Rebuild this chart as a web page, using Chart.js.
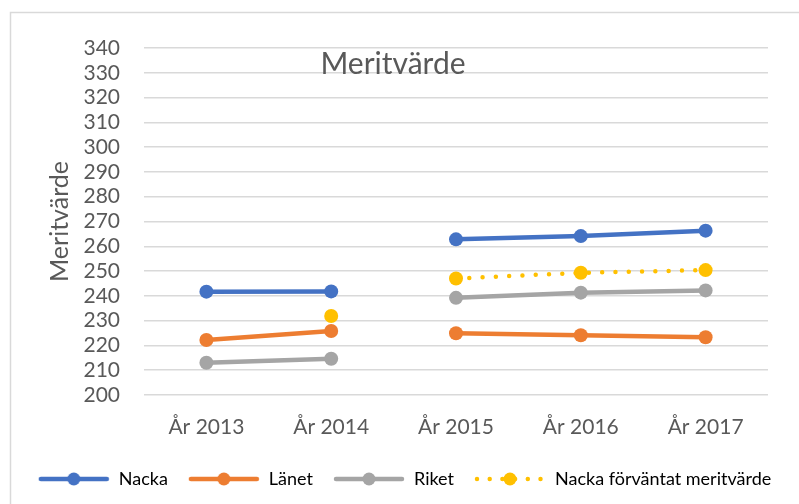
<!DOCTYPE html>
<html>
<head>
<meta charset="utf-8">
<script src="https://cdn.jsdelivr.net/npm/chart.js@4"></script>
<style>
  body { margin: 0; background: #fff; }
  #wrap { width: 799px; height: 504px; }
</style>
</head>
<body>
<div id="wrap"><canvas id="meritChart" width="799" height="504"></canvas></div>
<script>
// === Data ===
const categories = ['År 2013', 'År 2014', 'År 2015', 'År 2016', 'År 2017'];
const nacka = [241.7, 241.8, 262.8, 264.1, 266.3];
const lanet = [222.2, 225.8, 224.9, 224.1, 223.3];
const riket = [213.0, 214.6, 239.2, 241.3, 242.2];
const nackaForvantat = [null, 231.9, 247.0, 249.3, 250.4];
const yMin = 200, yMax = 340, yStep = 10;
const breakAfter = 1; // no line drawn between År 2014 and År 2015

const textColor = '#595959';
const gridColor = '#d9d9d9';
const fontFamily = 'Lato, "Open Sans", sans-serif';

// legend icon: line (solid or dotted) with a marker in the middle
function legendIcon(color, dotted) {
    const c = document.createElement('canvas');
    c.width = 72; c.height = 16;
    const g = c.getContext('2d');
    g.strokeStyle = color;
    g.lineWidth = 4.5;
    g.lineCap = 'round';
    if (dotted) g.setLineDash([0, 12.7]);
    g.beginPath();
    g.moveTo(3, 8); g.lineTo(69, 8);
    g.stroke();
    g.fillStyle = color;
    g.beginPath();
    g.arc(36, 8, 6.5, 0, Math.PI * 2);
    g.fill();
    return c;
}

function makeSeries(label, data, color, dotted) {
    return {
        label: label,
        data: data,
        borderColor: color,
        backgroundColor: color,
        borderWidth: 4.5,
        borderCapStyle: 'round',
        borderDash: dotted ? [0, 13.3] : [],
        pointRadius: 7,
        pointBorderWidth: 0,
        pointBackgroundColor: color,
        spanGaps: false,
        tension: 0,
        segment: {
            borderColor: ctx => ctx.p0DataIndex === breakAfter ? 'transparent' : undefined
        },
        dotted: dotted
    };
}

const frame = {
    id: 'frame',
    beforeDraw(chart) {
        const ctx = chart.ctx;
        ctx.save();
        ctx.strokeStyle = gridColor;
        ctx.lineWidth = 1.5;
        ctx.strokeRect(10.5, 12.5, 900, 600);
        ctx.restore();
    },
    afterDraw(chart) {
        const ctx = chart.ctx;
        ctx.save();
        ctx.font = '30px ' + fontFamily;
        ctx.fillStyle = textColor;
        ctx.textAlign = 'center';
        ctx.textBaseline = 'alphabetic';
        ctx.fillText('Meritvärde', 393, 74);
        ctx.restore();
    }
};

const padLeft = 10;

new Chart(document.getElementById('meritChart').getContext('2d'), {
    type: 'line',
    data: {
        labels: categories,
        datasets: [
            makeSeries('Nacka', nacka, '#4472c4', false),
            makeSeries('Länet', lanet, '#ed7d31', false),
            makeSeries('Riket', riket, '#a5a5a5', false),
            makeSeries('Nacka förväntat meritvärde', nackaForvantat, '#ffc000', true)
        ]
    },
    options: {
        responsive: false,
        animation: false,
        layout: { padding: { left: padLeft, right: 0, top: 48, bottom: 6 } },
        plugins: {
            tooltip: { enabled: false },
            title: { display: false },
            legend: {
                position: 'bottom',
                labels: {
                    usePointStyle: true,
                    pointStyleWidth: 72,
                    padding: 20,
                    color: textColor,
                    font: { family: fontFamily, size: 18 },
                    generateLabels: chart => chart.data.datasets.map((ds, i) => ({
                        text: ds.label,
                        pointStyle: legendIcon(ds.borderColor, ds.dotted),
                        fillStyle: ds.borderColor,
                        strokeStyle: ds.borderColor,
                        lineWidth: 0,
                        hidden: false,
                        datasetIndex: i
                    }))
                }
            }
        },
        scales: {
            x: {
                offset: true,
                grid: { display: false },
                border: { display: false },
                ticks: { color: textColor, padding: 12, font: { family: fontFamily, size: 21 } },
                afterFit: scale => { scale.height = 55; }
            },
            y: {
                min: yMin,
                max: yMax,
                grid: { color: gridColor, lineWidth: 1.5, drawTicks: false },
                border: { display: false },
                ticks: { stepSize: yStep, autoSkip: false, color: textColor, padding: 24, font: { family: fontFamily, size: 21 } },
                title: {
                    display: true,
                    text: 'Meritvärde',
                    color: textColor,
                    font: { family: fontFamily, size: 25 },
                    padding: { top: 60 - padLeft - 15, bottom: 0 }
                },
                afterFit: scale => { scale.width = 144 - padLeft; }
            },
            yRight: {
                position: 'right',
                display: true,
                grid: { display: false },
                border: { display: false },
                ticks: { display: false },
                afterFit: scale => { scale.width = 31; }
            }
        }
    },
    plugins: [frame]
});
</script>
</body>
</html>
